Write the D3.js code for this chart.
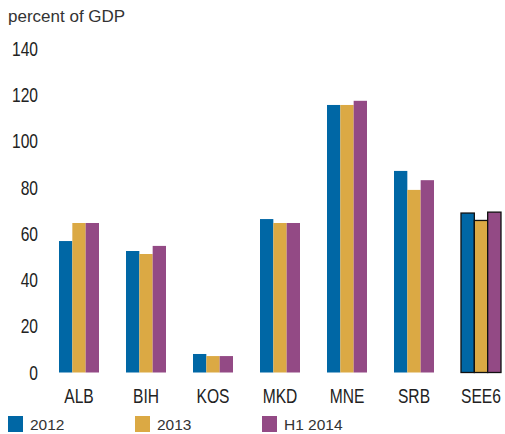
<!DOCTYPE html>
<html>
<head>
<meta charset="utf-8">
<script src="https://cdn.jsdelivr.net/npm/d3@7"></script>
<style>
  body { margin: 0; background: #fff; }
  svg { display: block; }
</style>
</head>
<body>
<div id="chart"></div>
<script>
// data
const categories = ["ALB", "BIH", "KOS", "MKD", "MNE", "SRB", "SEE6"];
const seriesNames = ["2012", "2013", "H1 2014"];
const values2012 = [56.8, 52.5, 8.0, 66.3, 115.6, 87.1, 68.9];
const values2013 = [64.6, 51.2, 7.1, 64.6, 115.6, 78.9, 65.7];
const valuesH12014 = [64.6, 54.7, 7.1, 64.6, 117.4, 83.1, 69.3];
const yTicks = [0, 20, 40, 60, 80, 100, 120, 140];
const colors = ["#0067a5", "#dba944", "#934a85"];

const width = 505, height = 434;
const seriesValues = [values2012, values2013, valuesH12014];

const svg = d3.select("#chart")
  .append("svg")
  .attr("width", width)
  .attr("height", height);

const x0 = d3.scaleBand()
  .domain(categories)
  .range([45.5, 514.5])
  .paddingInner(0.403)
  .paddingOuter(0.2015);

const x1 = d3.scaleBand()
  .domain(seriesNames)
  .range([0, x0.bandwidth()]);

const y = d3.scaleLinear()
  .domain([0, 140])
  .range([372.5, 48.5]);

const narrow = "'Liberation Sans Narrow', 'Arial Narrow', sans-serif";
const squeeze = 0.78;

// y axis labels only (no line, no ticks)
svg.append("g")
  .selectAll("text")
  .data(yTicks)
  .join("text")
  .attr("transform", d => `translate(38,${y(d)}) scale(${squeeze},1)`)
  .attr("text-anchor", "end")
  .attr("dy", "0.36em")
  .attr("font-family", narrow)
  .attr("font-size", 20)
  .attr("fill", "#222")
  .text(d => d);

// title
svg.append("text")
  .attr("x", 8)
  .attr("y", 22)
  .attr("font-family", "'Liberation Sans', Arial, sans-serif")
  .attr("font-size", 17)
  .attr("fill", "#333")
  .text("percent of GDP");

// bars
const rows = categories.map((c, i) => ({
  cat: c,
  vals: seriesNames.map((s, j) => ({ s: s, j: j, v: seriesValues[j][i] }))
}));

const groups = svg.append("g")
  .selectAll("g")
  .data(rows)
  .join("g")
  .attr("transform", d => `translate(${x0(d.cat)},0)`);

groups.selectAll("rect")
  .data(d => d.vals.map(v => Object.assign({ cat: d.cat }, v)))
  .join("rect")
  .attr("x", d => x1(d.s))
  .attr("y", d => y(d.v))
  .attr("width", x1.bandwidth())
  .attr("height", d => y(0) - y(d.v))
  .attr("fill", d => colors[d.j])
  .attr("stroke", d => d.cat === "SEE6" ? "#111" : "none")
  .attr("stroke-width", 1.3);

// category labels
svg.append("g")
  .selectAll("text")
  .data(categories)
  .join("text")
  .attr("transform", d => `translate(${x0(d) + x0.bandwidth() / 2},403) scale(${squeeze},1)`)
  .attr("text-anchor", "middle")
  .attr("font-family", narrow)
  .attr("font-size", 20)
  .attr("fill", "#222")
  .text(d => d);

// legend
const legendX = [8, 135, 262];
const legend = svg.append("g")
  .selectAll("g")
  .data(seriesNames)
  .join("g")
  .attr("transform", (d, i) => `translate(${legendX[i]},416)`);

legend.append("rect")
  .attr("width", 15)
  .attr("height", 16)
  .attr("fill", (d, i) => colors[i]);

legend.append("text")
  .attr("x", 22)
  .attr("y", 14)
  .attr("font-family", "'Liberation Sans', Arial, sans-serif")
  .attr("font-size", 15.5)
  .attr("fill", "#333")
  .text(d => d);
</script>
</body>
</html>
